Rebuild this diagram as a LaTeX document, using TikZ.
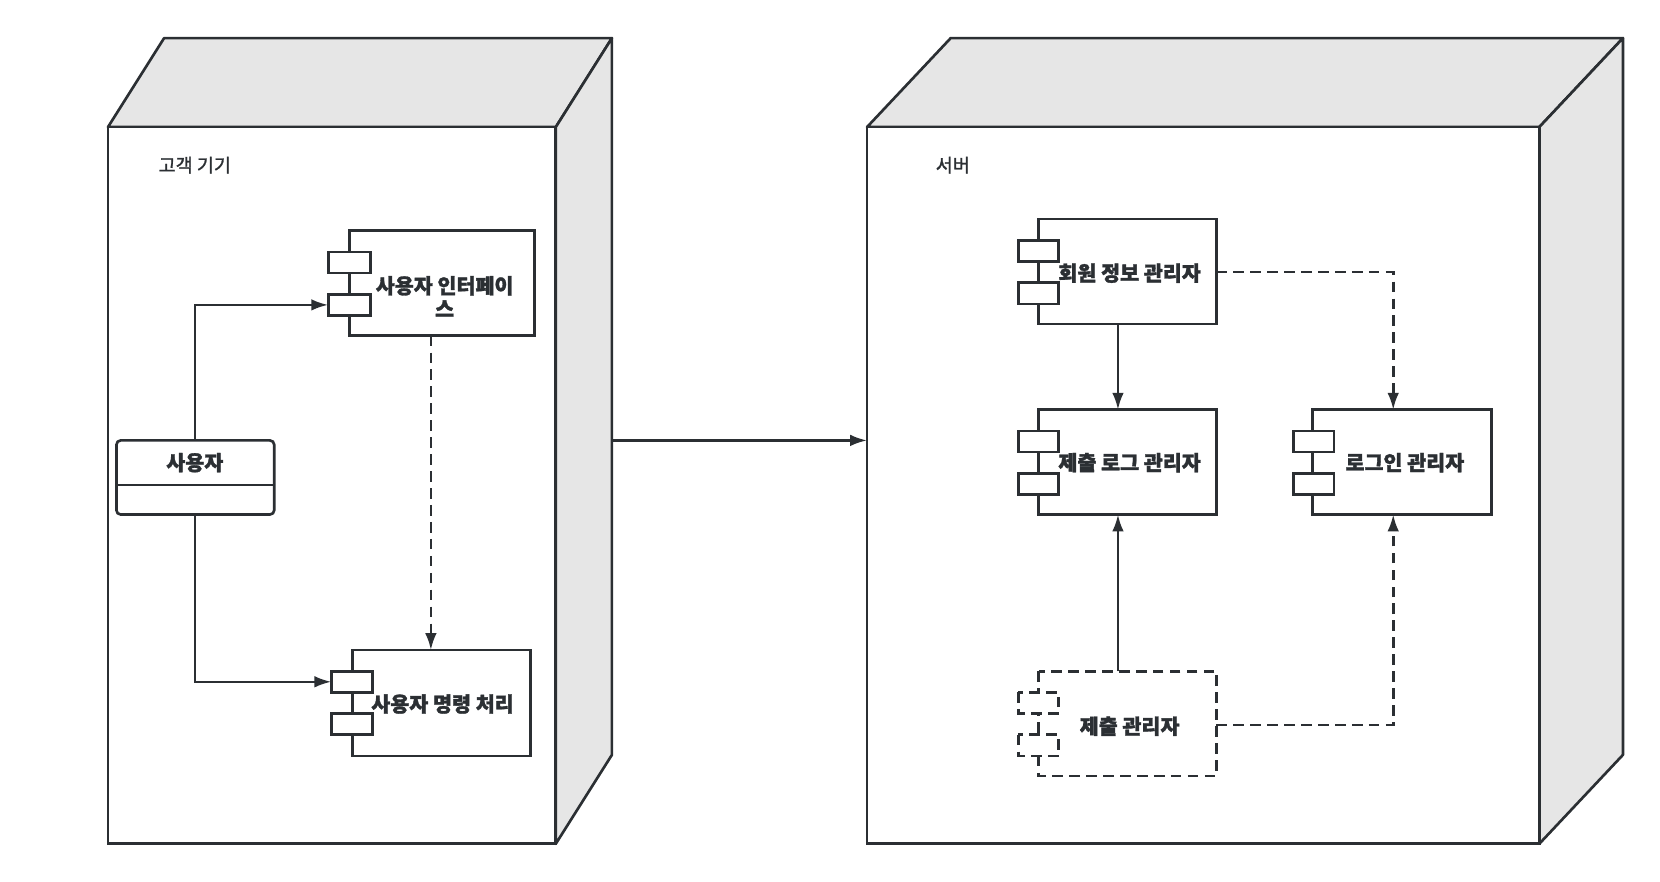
\documentclass[tikz,border=0pt]{standalone}
\usepackage{fontspec}
\setmainfont{Noto Sans CJK KR}[FakeBold=1.5]
\usetikzlibrary{arrows.meta}
\definecolor{ln}{HTML}{2B2F33}
\definecolor{face}{HTML}{E6E6E6}
\begin{document}
\begin{tikzpicture}[x=1pt,y=-1pt,
  line width=2.5pt, draw=ln,
  every node/.style={font=\fontsize{19.5}{22}\selectfont\bfseries, text=ln},
  arr/.style={draw=ln, line width=2.4pt, -{Latex[length=16pt,width=11pt]}},
  dsh/.style={dash pattern=on 10pt off 6pt}]
\useasboundingbox (0,0) rectangle (1568,833);
% left node
\fill[face,draw=ln,line join=round] (102,120)--(155,36)--(578,36)--(525,120)--cycle;
\fill[face,draw=ln,line join=round] (525,120)--(578,36)--(578,713)--(525,797)--cycle;
\draw[fill=white] (102,120) rectangle (525,797);
\node[font=\fontsize{17.5}{20}\selectfont] (lab1) at (184,156) {고객 기기};
% right node
\fill[face,draw=ln,line join=round] (819,120)--(898,36)--(1533,36)--(1454,120)--cycle;
\fill[face,draw=ln,line join=round] (1454,120)--(1533,36)--(1533,713)--(1454,797)--cycle;
\draw[fill=white] (819,120) rectangle (1454,797);
\node[font=\fontsize{17.5}{20}\selectfont] (lab2) at (900,156) {서버};
% central
\coordinate (cs) at (578,416);
\coordinate (ce) at (819,416);
\draw[arr] (cs) -- (ce);
% user
\draw[rounded corners=4pt] (110,416) rectangle (259,486);
\draw (110,458) -- (259,458);
\node (user) at (184,437) {사용자};
\coordinate (ut) at (184,416);
\coordinate (ub) at (184,486);
% UI component
\draw (330,218) rectangle (505,317);
\draw[fill=white] (310,238) rectangle (350,258);
\draw[fill=white] (310,278) rectangle (350,298);
\node[align=center] (ui) at (420,280) {사용자 인터페이\\스};
\coordinate (uip) at (310,288);
\coordinate (uib) at (407,317);
% command
\draw (333,614) rectangle (501,714);
\draw[fill=white] (313,634) rectangle (352,654);
\draw[fill=white] (313,674) rectangle (352,694);
\node (cmd) at (418,665) {사용자 명령 처리};
\coordinate (cmdp) at (313,644);
\coordinate (cmdt) at (407,614);
\draw[arr] (ut) |- (uip);
\draw[arr] (ub) |- (cmdp);
\draw[arr,dsh] (uib) -- (cmdt);
% member info
\draw (981,207) rectangle (1149,306);
\draw[fill=white] (962,227) rectangle (1000,247);
\draw[fill=white] (962,267) rectangle (1000,287);
\node (mem) at (1067,258) {회원 정보 관리자};
% submission log
\draw (981,387) rectangle (1149,486);
\draw[fill=white] (962,407) rectangle (1000,427);
\draw[fill=white] (962,447) rectangle (1000,467);
\node (log) at (1067,437) {제출 로그 관리자};
% login
\draw (1240,387) rectangle (1409,486);
\draw[fill=white] (1222,407) rectangle (1260,427);
\draw[fill=white] (1222,447) rectangle (1260,467);
\node (login) at (1327,437) {로그인 관리자};
% submission manager
\draw[dsh] (981,634) rectangle (1149,733);
\draw[dsh,fill=white] (962,654) rectangle (1000,674);
\draw[dsh,fill=white] (962,694) rectangle (1000,714);
\node (sub) at (1067,686) {제출 관리자};
\draw[arr] (1056,306) -- (1056,387);
\draw[arr,dsh] (1149,257) -| (1316,387);
\draw[arr] (1056,634) -- (1056,486);
\draw[arr,dsh] (1149,685) -| (1316,486);
\end{tikzpicture}
\end{document}
